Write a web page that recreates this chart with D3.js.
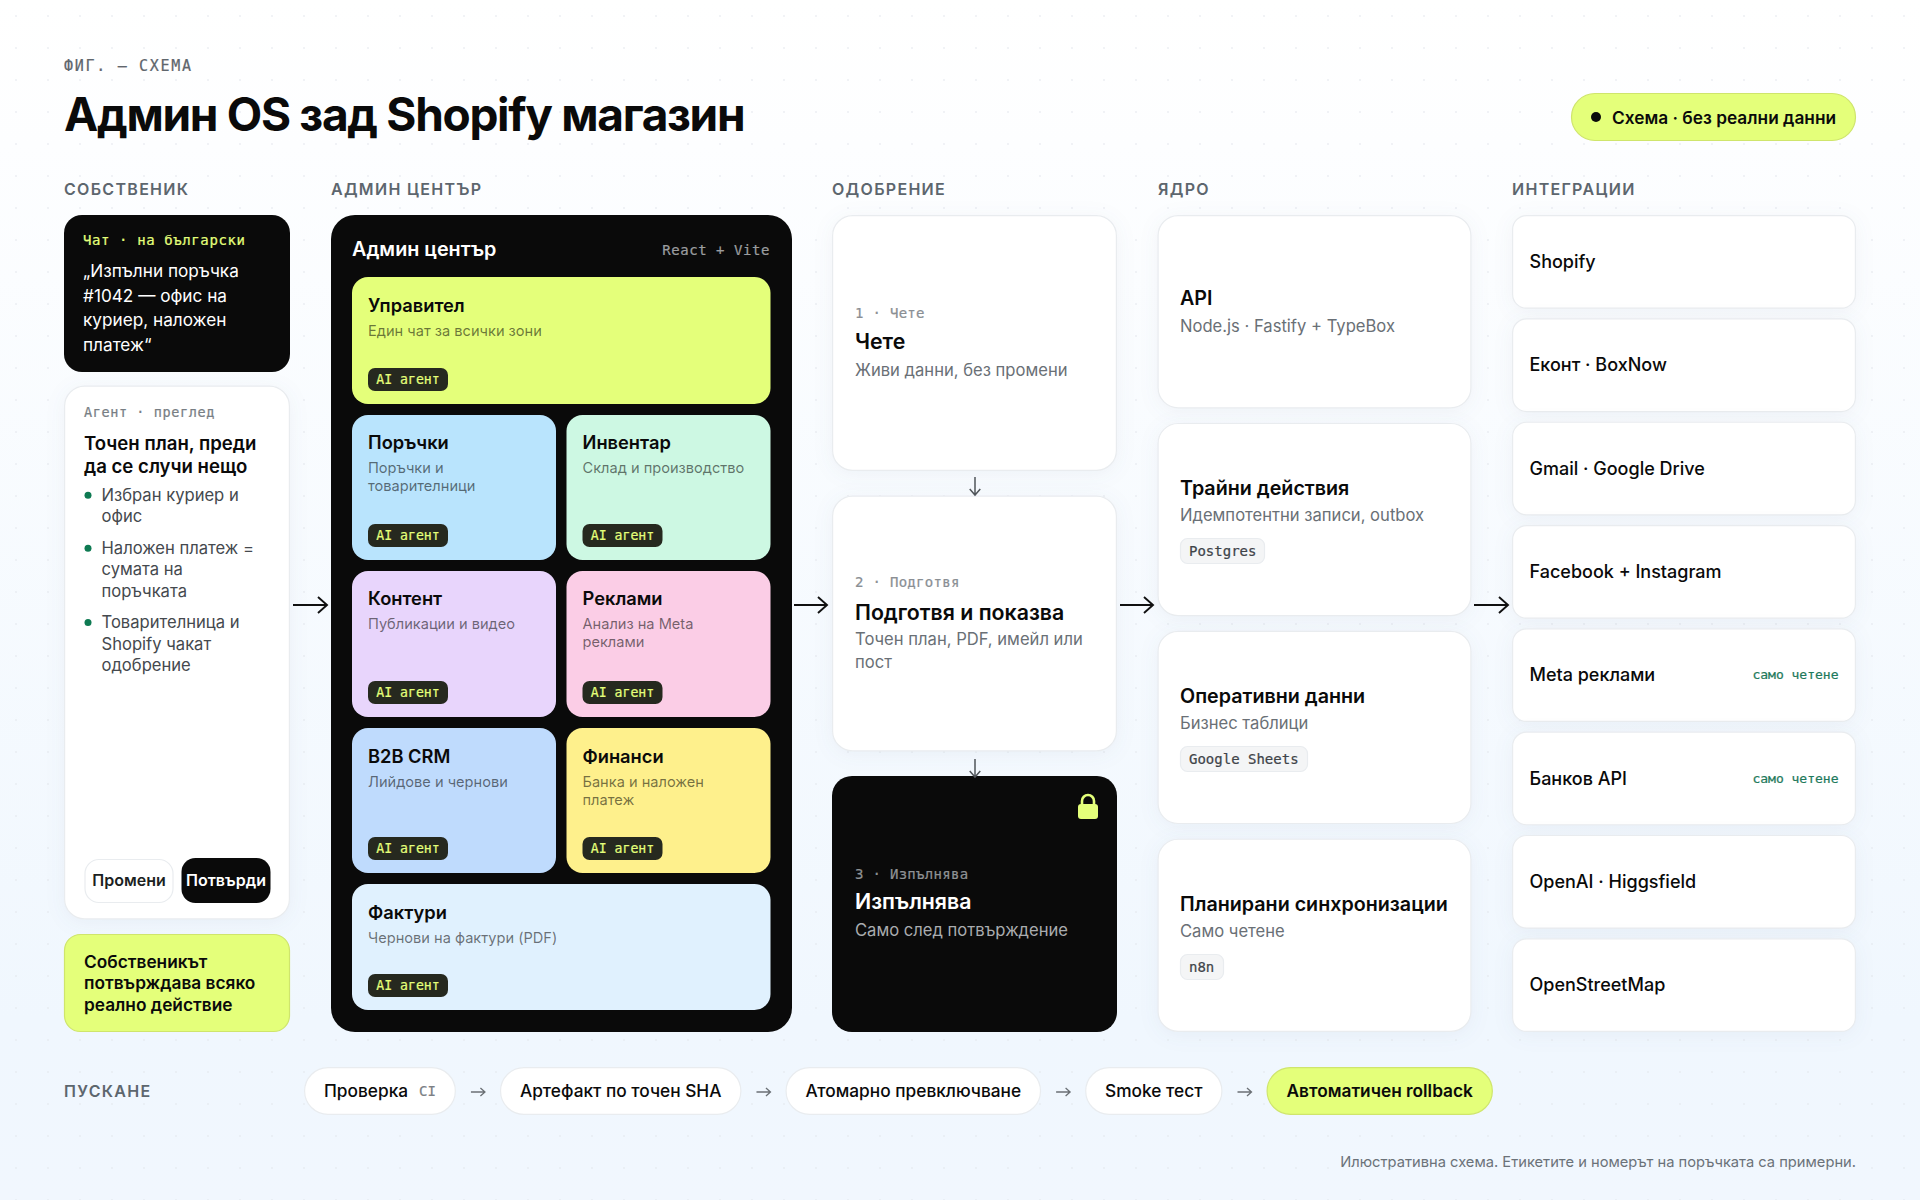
<!DOCTYPE html>
<html lang="bg">
<head>
<meta charset="utf-8">
<title>Админ OS зад Shopify магазин</title>
<script src="https://cdnjs.cloudflare.com/ajax/libs/d3/7.9.0/d3.min.js"></script>
<style>
html,body{margin:0;padding:0;background:#fff}
svg{display:block}
text{font-family:Inter,"Noto Sans",sans-serif}
.mono{font-family:"DejaVu Sans Mono","Liberation Mono",monospace}
</style>
</head>
<body>
<svg id="c" width="1920" height="1200" viewBox="0 0 1920 1200"></svg>
<script>
// ---- content ----
const eyebrow = "ФИГ. — СХЕМА";
const chartTitle = "Админ OS зад Shopify магазин";
const statusPill = "Схема · без реални данни";
const columnLabels = ["СОБСТВЕНИК","АДМИН ЦЕНТЪР","ОДОБРЕНИЕ","ЯДРО","ИНТЕГРАЦИИ"];
const chatLabel = "Чат · на български";
const chatLines = ["„Изпълни поръчка","#1042 — офис на","куриер, наложен","платеж“"];
const reviewLabel = "Агент · преглед";
const reviewTitle = ["Точен план, преди","да се случи нещо"];
const reviewBullets = [["Избран куриер и","офис"],["Наложен платеж =","сумата на","поръчката"],["Товарителница и","Shopify чакат","одобрение"]];
const reviewButtons = ["Промени","Потвърди"];
const ownerNote = ["Собственикът","потвърждава всяко","реално действие"];
const adminTitle = "Админ център";
const adminStack = "React + Vite";
const tileBadge = "AI агент";
const tileNames = ["Управител","Поръчки","Инвентар","Контент","Реклами","B2B CRM","Финанси","Фактури"];
const tileSubs = [["Един чат за всички зони"],["Поръчки и","товарителници"],["Склад и производство"],["Публикации и видео"],["Анализ на Meta","реклами"],["Лийдове и чернови"],["Банка и наложен","платеж"],["Чернови на фактури (PDF)"]];
const tileColors = ["#e4ff7a","#b9e4fd","#cdf8e3","#e8d5fc","#fbcde6","#bfdbfd","#fef08c","#e0f1fe"];
const approvalLabels = ["1 · Чете","2 · Подготвя","3 · Изпълнява"];
const approvalTitles = ["Чете","Подготвя и показва","Изпълнява"];
const approvalSubs = [["Живи данни, без промени"],["Точен план, PDF, имейл или","пост"],["Само след потвърждение"]];
const coreTitles = ["API","Трайни действия","Оперативни данни","Планирани синхронизации"];
const coreSubs = ["Node.js · Fastify + TypeBox","Идемпотентни записи, outbox","Бизнес таблици","Само четене"];
const coreTags = ["","Postgres","Google Sheets","n8n"];
const integrations = ["Shopify","Еконт · BoxNow","Gmail · Google Drive","Facebook + Instagram","Meta реклами","Банков API","OpenAI · Higgsfield","OpenStreetMap"];
const integrationNotes = ["","","","","само четене","само четене","",""];
const releaseLabel = "ПУСКАНЕ";
const releaseSteps = ["Проверка","Артефакт по точен SHA","Атомарно превключване","Smoke тест","Автоматичен rollback"];
const releaseStepTags = ["CI","","","",""];
const footnote = "Илюстративна схема. Етикетите и номерът на поръчката са примерни.";

// ---- palette ----
const INK="#0a0a0a", LIME="#e4ff7a", LIME_EDGE="#cfe56c", EDGE="#e9ecef", GREY="#6a7076", LABEL="#5d666e", SOFT="#8a8f94", GREEN="#0e7a52";

const svg=d3.select("#c");
const defs=svg.append("defs");
const bg=defs.append("linearGradient").attr("id","bg").attr("x1",0).attr("y1",0).attr("x2",0).attr("y2",1);
bg.append("stop").attr("offset","0%").attr("stop-color","#ffffff");
bg.append("stop").attr("offset","12%").attr("stop-color","#fdfeff");
bg.append("stop").attr("offset","85%").attr("stop-color","#f0f7fe");
bg.append("stop").attr("offset","100%").attr("stop-color","#f1f7fe");
const pat=defs.append("pattern").attr("id","dots").attr("width",32).attr("height",32).attr("patternUnits","userSpaceOnUse");
pat.append("circle").attr("cx",16).attr("cy",16).attr("r",1.1).attr("fill","#dfe4ea").attr("opacity",.55);
svg.append("rect").attr("width",1920).attr("height",1200).attr("fill","url(#bg)");
svg.append("rect").attr("width",1920).attr("height",1200).attr("fill","url(#dots)");

function txt(g,s,x,y,o={}){
  const t=g.append("text").attr("x",x).attr("y",y).text(s)
    .attr("font-size",o.size||16).attr("font-weight",o.weight||400).attr("fill",o.fill||INK);
  if(o.mono)t.attr("class","mono").attr("stroke",o.fill||INK).attr("stroke-width",.22);
  if(o.ls)t.attr("letter-spacing",o.ls);
  if(o.anchor)t.attr("text-anchor",o.anchor);
  return t;
}
function box(g,x,y,w,h,r,fill,stroke,shadow){
  const b=g.append("rect").attr("x",x).attr("y",y).attr("width",w).attr("height",h).attr("rx",r).attr("ry",r).attr("fill",fill);
  if(stroke)b.attr("stroke",stroke).attr("stroke-width",1.2);
  if(shadow)b.style("filter","drop-shadow(0 3px 10px rgba(30,50,90,.05))");
  return b;
}
const card=(g,x,y,w,h,r)=>box(g,x+.6,y+.6,w-1.2,h-1.2,r,"#fff",EDGE,true);
function arrow(g,x1,y1,x2,y2,head,color,sw){
  const a=Math.atan2(y2-y1,x2-x1),t=.72;
  const p=d3.path();
  p.moveTo(x1,y1);p.lineTo(x2,y2);
  p.moveTo(x2-head*Math.cos(a-t),y2-head*Math.sin(a-t));p.lineTo(x2,y2);
  p.lineTo(x2-head*Math.cos(a+t),y2-head*Math.sin(a+t));
  g.append("path").attr("d",p.toString()).attr("fill","none").attr("stroke",color).attr("stroke-width",sw);
}

// ---- layout scales ----
const TOP=215, BOT=1032;
const band=(domain,r0,r1,gap)=>{const n=domain.length,st=(r1-r0+gap)/n;return d3.scaleBand().domain(domain).range([r0,r1]).paddingInner(gap/st).paddingOuter(0)};
const colX=[64,331,832,1158,1512];

// header
txt(svg,eyebrow,64,71,{mono:true,size:15,ls:"1.7px",fill:"#5f666d"});
txt(svg,chartTitle,64,131,{size:46,weight:700,ls:"-1.3px"});
box(svg,1571.5,93.5,284,47,23.5,LIME,LIME_EDGE);
svg.append("circle").attr("cx",1596).attr("cy",117).attr("r",5).attr("fill",INK);
txt(svg,statusPill,1612,124,{size:17.3,weight:600});
columnLabels.forEach((s,i)=>txt(svg,s,colX[i],195,{size:16,weight:600,ls:"1.3px",fill:LABEL}));

// owner column
const own=svg.append("g");
box(own,64,215,226,157,18,INK);
txt(own,chatLabel,83,245,{mono:true,size:14,ls:".6px",fill:LIME});
chatLines.forEach((s,i)=>txt(own,s,83,277+i*24.7,{size:17.2,fill:"#fff"}));
card(own,64,385.5,226,534,20);
txt(own,reviewLabel,84,417,{mono:true,size:13.5,fill:"#787e84",ls:".6px"});
reviewTitle.forEach((s,i)=>txt(own,s,84,450+i*22.5,{size:18.6,weight:600}));
let by=500.7;
reviewBullets.forEach((lines,i)=>{
  own.append("circle").attr("cx",88).attr("cy",by-5.5).attr("r",3.5).attr("fill",GREEN);
  lines.forEach((s,j)=>txt(own,s,101.5,by+j*21.4,{size:16.6,fill:"#45494e"}));
  by+=lines.length*21.4+10.2;
});
const bx=[[84.5,89],[181.5,89]];
reviewButtons.forEach((s,i)=>{
  const g=own.append("g");
  if(i==0)box(g,bx[i][0]+.5,859.5,bx[i][1]-1,43,14,"#fff",EDGE);else box(g,bx[i][0],858,bx[i][1],45,14,INK);
  txt(g,s,bx[i][0]+bx[i][1]/2,886,{size:16,weight:600,fill:i?"#fff":"#1c1f22",anchor:"middle"});
});
box(own,64.5,934.5,225,97,16,LIME,LIME_EDGE);
ownerNote.forEach((s,i)=>txt(own,s,84,967.5+i*21.5,{size:17.3,weight:600}));

// admin column
const adm=svg.append("g");
box(adm,331,215,461,817,24,INK);
txt(adm,adminTitle,352,256,{size:19.8,weight:600,fill:"#fff"});
txt(adm,adminStack,770,255,{mono:true,size:14,fill:"#9b9d9f",anchor:"end",ls:".55px"});
const rowY=[[277,127],[415,145],[571,146],[728,145],[884,126]];
const rowText=[35,34,34,35,35];
const tileGrid=[[0,0,2],[1,0,1],[1,1,1],[2,0,1],[2,1,1],[3,0,1],[3,1,1],[4,0,2]];
const tileX=band(["a","b"],352,770.5,10.5);
tileNames.forEach((name,i)=>{
  const [r,c,span]=tileGrid[i],[y,h]=rowY[r];
  const x=tileX(c?"b":"a"),w=span==2?418.5:tileX.bandwidth();
  const g=adm.append("g");
  box(g,x,y,w,h,16,tileColors[i]);
  txt(g,name,x+16,y+rowText[r],{size:18.3,weight:600});
  tileSubs[i].forEach((s,j)=>txt(g,s,x+16,y+rowText[r]+24+j*18.4,{size:14.6,fill:"rgba(0,0,0,.55)"}));
  box(g,x+16,y+h-36,80,23,7,"#26291f");
  txt(g,tileBadge,x+56,y+h-20.5,{mono:true,size:13.2,fill:LIME,anchor:"middle"});
});

// approval column
const apr=svg.append("g");
const aprY=[[215,256],[495.5,256],[776,256]];
const aprBase=[[318,349,376],[587,620,645],[879,909,936]];
approvalTitles.forEach((t,i)=>{
  const [y,h]=aprY[i],[b0,b1,b2]=aprBase[i],dark=i==2,g=apr.append("g");
  if(dark)box(g,832,y,285,h,20,INK);else card(g,832,y,285,h,20);
  txt(g,approvalLabels[i],855,b0,{mono:true,size:14,fill:dark?"#8f9295":SOFT,ls:".3px"});
  txt(g,t,855,b1,{size:21.3,weight:600,fill:dark?"#fff":INK});
  approvalSubs[i].forEach((s,j)=>txt(g,s,855,b2+j*22.5,{size:16.6,fill:dark?"#a9acaf":GREY}));
});
const lock=apr.append("g");
lock.append("path").attr("d",d3.line()([[1082,805],[1082,801]])+"A6 6 0 0 1 1094 801L1094 805").attr("fill","none").attr("stroke",LIME).attr("stroke-width",2.6);
box(lock,1078,804,20,15,3,LIME);
arrow(apr,975,477,975,495,8,"#50555a",1.5);
arrow(apr,975,759,975,777,8,"#50555a",1.5);

// core column
const cor=svg.append("g");
const coreY=band(coreTitles,TOP,BOT,14.5);
const coreBase=[[305,332],[495,521],[703,729],[911,937]];
const tagW=[0,84,127,43];
coreTitles.forEach((t,i)=>{
  const y=coreY(t),g=cor.append("g");
  card(g,1157.5,y,314,coreY.bandwidth(),20);
  txt(g,t,1180,coreBase[i][0],{size:19.7,weight:600});
  txt(g,coreSubs[i],1180,coreBase[i][1],{size:16.6,fill:GREY});
  if(coreTags[i]){
    box(g,1180.5,coreBase[i][1]+17.5,tagW[i],25,7,"#f4f5f6",EDGE);
    txt(g,coreTags[i],1189,coreBase[i][1]+35,{mono:true,size:14,fill:"#3f4449"});
  }
});

// integrations column
const itg=svg.append("g");
const itgY=band(integrations,TOP,BOT,9.5);
integrations.forEach((s,i)=>{
  const y=itgY(s),g=itg.append("g");
  card(g,1512,y,344,itgY.bandwidth(),14);
  txt(g,s,1529.5,y+53,{size:18,weight:500});
  if(integrationNotes[i])txt(g,integrationNotes[i],1838.5,y+51,{mono:true,size:13,fill:"#1f7a5c",anchor:"end"});
});

// connector arrows
[[293,327],[794,827],[1120,1153],[1474,1508]].forEach(([a,b])=>arrow(svg,a,605,b,605,12,"#111",1.9));

// release row
const rel=svg.append("g");
txt(rel,releaseLabel,64,1097,{size:16,weight:600,ls:"1.3px",fill:LABEL});
let px=304;
releaseSteps.forEach((s,i)=>{
  const last=i==releaseSteps.length-1,g=rel.append("g");
  const t=txt(g,s,px+20,1097,{size:17.3,weight:last?600:500});
  let w=t.node().getComputedTextLength()+40;
  if(releaseStepTags[i]){const tag=txt(g,releaseStepTags[i],px+20+t.node().getComputedTextLength()+11,1096,{mono:true,size:14,fill:"#7b8085"});w+=tag.node().getComputedTextLength()+11;}
  g.insert("rect","text").attr("x",px+.6).attr("y",1067.6).attr("width",w-1.2).attr("height",46.8).attr("rx",23.4).attr("fill",last?LIME:"#fff").attr("stroke",last?LIME_EDGE:EDGE).attr("stroke-width",1.2);
  if(!last)arrow(rel,px+w+15,1092,px+w+29,1092,6,"#6b7075",1.3);
  px+=w+44;
});
txt(svg,footnote,1856,1167,{size:14.7,fill:"#6b7279",anchor:"end"});
</script>
</body>
</html>
